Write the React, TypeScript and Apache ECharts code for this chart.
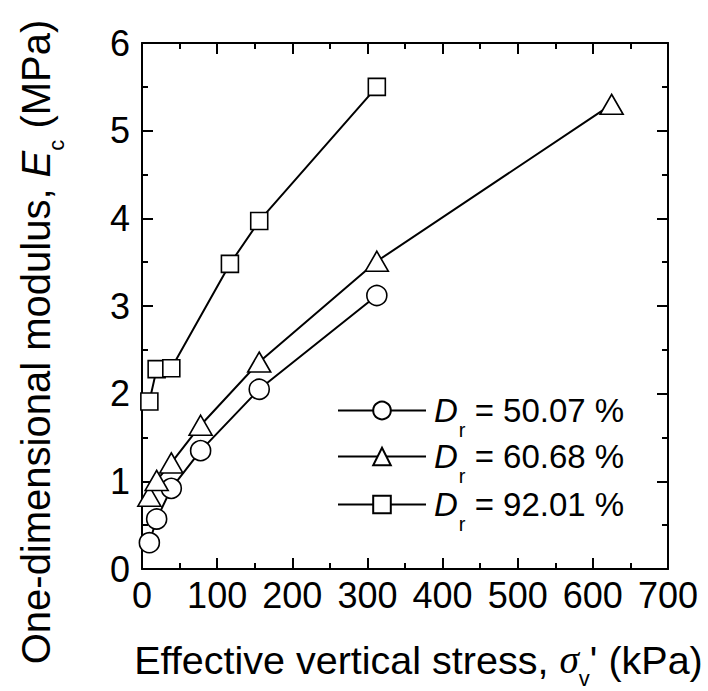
import React, { useEffect, useRef } from 'react';
import * as echarts from 'echarts';

// ---- data ----
const stressCircle = [9.8, 19.5, 39, 78, 156, 312.5];
const modulusCircle = [0.3, 0.57, 0.92, 1.35, 2.05, 3.12];
const stressTriangle = [9.8, 19.5, 39, 78, 156, 312.5, 625];
const modulusTriangle = [0.83, 1.01, 1.21, 1.64, 2.36, 3.51, 5.3];
const stressSquare = [9.8, 19.5, 39, 117, 156, 312.5];
const modulusSquare = [1.91, 2.28, 2.29, 3.48, 3.97, 5.5];
const densityLabels = ['50.07 %', '60.68 %', '92.01 %'];
const xRange = [0, 700];
const yRange = [0, 6];

const FONT = '"Liberation Sans", Arial, Helvetica, sans-serif';
const SERIF = '"Liberation Serif", "Times New Roman", serif';

type Piece = { text: string; size: number; italic?: boolean; dy?: number; family?: string };

function measure(p: Piece): number {
  const c = document.createElement('canvas').getContext('2d')!;
  c.font = `${p.italic ? 'italic ' : ''}${p.size}px ${p.family || FONT}`;
  return c.measureText(p.text).width;
}

function buildTitle(pieces: Piece[]) {
  let x = 0;
  const children: any[] = [];
  for (const p of pieces) {
    const w = measure(p);
    children.push({
      type: 'text',
      x,
      y: (p.dy || 0) - 0.3465 * p.size,
      style: {
        text: p.text,
        font: `${p.italic ? 'italic ' : ''}${p.size}px ${p.family || FONT}`,
        fill: '#000',
        align: 'left',
        verticalAlign: 'middle',
        textAlign: 'left',
        textVerticalAlign: 'middle',
      },
    });
    x += w;
  }
  return { children, width: x };
}

const zip = (xs: number[], ys: number[]) => xs.map((x, i) => [x, ys[i]]);

export default function App() {
  const ref = useRef<HTMLDivElement>(null);
  useEffect(() => {
    if (!ref.current) return;
    const chart = echarts.init(ref.current, undefined, { renderer: 'svg' });

    const xt = buildTitle([
      { text: 'Effective vertical stress, ', size: 39.5 },
      { text: 'σ', size: 39.5, italic: true, family: SERIF },
      { text: 'v', size: 22, dy: 12 },
      { text: "' (kPa)", size: 39.5 },
    ]);
    const yt = buildTitle([
      { text: 'One-dimensional modulus, ', size: 40 },
      { text: 'E', size: 40, italic: true },
      { text: 'c', size: 22, dy: 14 },
      { text: ' (MPa)', size: 40 },
    ]);

    const axisCommon = {
      axisLine: { show: true, onZero: false, lineStyle: { color: '#000', width: 2 } },
      axisTick: { show: true, inside: true, length: 11, lineStyle: { color: '#000', width: 2 } },
      minorTick: { show: true, splitNumber: 2, length: 6, lineStyle: { color: '#000', width: 2 } },
      splitLine: { show: false },
    };

    const markerStyle = { color: '#fff', borderColor: '#000', borderWidth: 1.6 };
    const lineStyle = { color: '#000', width: 2 };
    const names = densityLabels.map((l) => 'Dr = ' + l);
    const legendCenters = [412, 458, 506];

    const legendText = {
      fontSize: 33, color: '#000', fontFamily: FONT, lineHeight: 22,
      rich: {
        i: { fontStyle: 'italic', fontSize: 33, lineHeight: 22, fontFamily: FONT, verticalAlign: 'middle', padding: [0, 0, 0, 3] },
        s: { fontSize: 20, lineHeight: 22, fontFamily: FONT, verticalAlign: 'middle', padding: [38, 0, 0, 1] },
        t: { fontSize: 33, lineHeight: 22, fontFamily: FONT, verticalAlign: 'middle' },
      },
    };

    chart.setOption({
      animation: false,
      backgroundColor: '#fff',
      grid: { left: 142, top: 43, width: 526, height: 526 },
      xAxis: [
        {
          type: 'value', min: xRange[0], max: xRange[1], interval: 100, position: 'bottom',
          ...axisCommon,
          axisLabel: { fontSize: 36, color: '#000', fontFamily: FONT, margin: 8 },
        },
        {
          type: 'value', min: xRange[0], max: xRange[1], interval: 100, position: 'top',
          ...axisCommon,
          axisLabel: { show: false },
        },
      ],
      yAxis: [
        {
          type: 'value', min: yRange[0], max: yRange[1], interval: 1, position: 'left',
          ...axisCommon,
          axisLabel: { fontSize: 36, color: '#000', fontFamily: FONT, margin: 12 },
        },
        {
          type: 'value', min: yRange[0], max: yRange[1], interval: 1, position: 'right',
          ...axisCommon,
          axisLabel: { show: false },
        },
      ],
      legend: names.map((n, k) => ({
        orient: 'vertical',
        left: 337,
        top: legendCenters[k] - 30.5,
        padding: 0,
        itemWidth: 88,
        itemHeight: 22,
        data: [n],
        formatter: (s: string) => `{i|D}{s|r}{t| = ${s.slice(5)}}`,
        textStyle: legendText,
      })),
      series: [
        {
          name: names[0], type: 'line', data: zip(stressCircle, modulusCircle),
          symbol: 'circle', symbolSize: 20, itemStyle: markerStyle, lineStyle,
        },
        {
          name: names[1], type: 'line', data: zip(stressTriangle, modulusTriangle),
          symbol: 'triangle', symbolSize: [23, 20], itemStyle: markerStyle, lineStyle,
        },
        {
          name: names[2], type: 'line', data: zip(stressSquare, modulusSquare),
          symbol: 'rect', symbolSize: 17, itemStyle: markerStyle, lineStyle,
        },
      ],
      graphic: [
        { type: 'group', x: 418.5 - xt.width / 2, y: 674, children: xt.children },
        { type: 'group', x: 50, y: 342 + yt.width / 2, rotation: Math.PI / 2, children: yt.children },
      ],
    });
    return () => chart.dispose();
  }, []);
  return <div ref={ref} style={{ position: 'fixed', left: 0, top: 0, width: 708, height: 691 }} />;
}
